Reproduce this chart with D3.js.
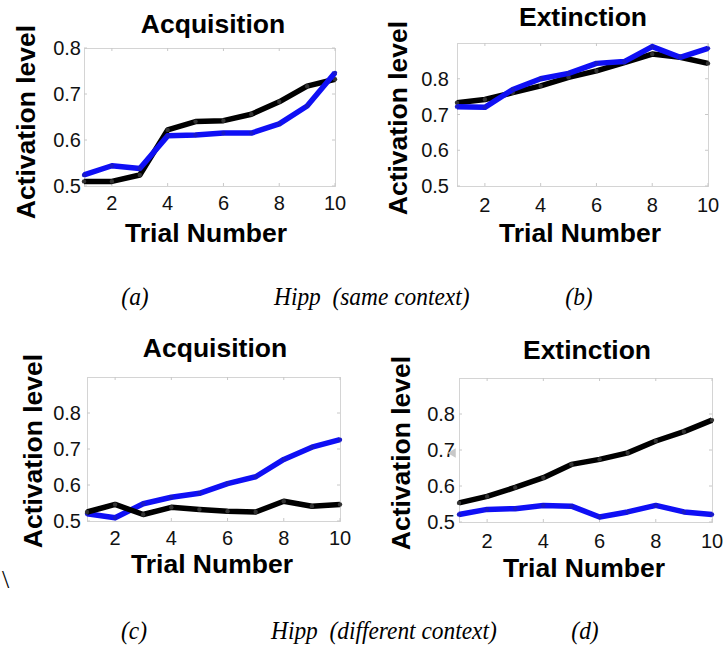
<!DOCTYPE html>
<html>
<head>
<meta charset="utf-8">
<script src="https://cdn.jsdelivr.net/npm/d3@7"></script>
<style>
  body { margin: 0; background: #fff; }
  .box { fill: none; stroke: #d4d4d4; stroke-width: 1; }
  .tick-mark { stroke: #c8c8c8; stroke-width: 1; }
  .tick-label { font-family: "Liberation Sans", Arial, sans-serif; font-size: 20px; fill: #111; }
  .title, .axis-label { font-family: "Liberation Sans", Arial, sans-serif; font-weight: bold; font-size: 26.5px; fill: #000; }
  .caption { font-family: "Liberation Serif", "Times New Roman", serif; font-style: italic; font-size: 26px; fill: #000; white-space: pre; }
  .series { fill: none; stroke-width: 5.5; stroke-linejoin: round; }
</style>
</head>
<body>
<div id="chart"></div>
<script>
(function(){

  // data
  var trials = [1, 2, 3, 4, 5, 6, 7, 8, 9, 10];
  var xTicks = [2, 4, 6, 8, 10];
  var yTicks = [0.5, 0.6, 0.7, 0.8];

  var acqSameBlack = [0.510, 0.510, 0.524, 0.622, 0.640, 0.642, 0.656, 0.683, 0.717, 0.732];
  var acqSameBlue  = [0.524, 0.544, 0.538, 0.609, 0.611, 0.615, 0.615, 0.635, 0.674, 0.746];
  var extSameBlack = [0.733, 0.742, 0.761, 0.780, 0.804, 0.822, 0.845, 0.869, 0.860, 0.843];
  var extSameBlue  = [0.722, 0.720, 0.770, 0.800, 0.815, 0.843, 0.848, 0.890, 0.860, 0.885];
  var acqDiffBlack = [0.525, 0.546, 0.518, 0.538, 0.532, 0.527, 0.525, 0.555, 0.541, 0.546];
  var acqDiffBlue  = [0.520, 0.509, 0.548, 0.566, 0.577, 0.604, 0.623, 0.671, 0.705, 0.726];
  var extDiffBlack = [0.553, 0.571, 0.596, 0.623, 0.660, 0.674, 0.692, 0.725, 0.751, 0.783];
  var extDiffBlue  = [0.521, 0.535, 0.537, 0.546, 0.544, 0.514, 0.528, 0.546, 0.528, 0.521];

  var titles = ['Acquisition', 'Extinction', 'Acquisition', 'Extinction'];
  var xLabel = 'Trial Number';
  var yLabel = 'Activation level';
  var captions = [
    { text: '(a)', x: 135, y: 305, anchor: 'middle' },
    { text: 'Hipp  (same context)', x: 274, y: 305, anchor: 'start' },
    { text: '(b)', x: 579, y: 305, anchor: 'middle' },
    { text: '(c)', x: 134, y: 639, anchor: 'middle' },
    { text: 'Hipp  (different context)', x: 271, y: 639, anchor: 'start' },
    { text: '(d)', x: 585, y: 639, anchor: 'middle' }
  ];

  var black = '#000';
  var blue = '#0f0ff5';

  // panel geometry (pixel layout)
  var panels = [
    { left: 84,  right: 335, top: 48,  bottom: 186, yMax: 0.8,
      title: [213, 33], xlab: [206, 242], ylab: [35, 122], tickGap: 3, xTickDy: 24,
      series: [[acqSameBlack, black], [acqSameBlue, blue]] },
    { left: 457, right: 708, top: 43,  bottom: 186, yMax: 0.9,
      title: [583, 26], xlab: [580, 242], ylab: [407, 118], tickGap: 8, xTickDy: 26,
      series: [[extSameBlack, black], [extSameBlue, blue]] },
    { left: 87,  right: 340, top: 377, bottom: 521, yMax: 0.9,
      title: [215, 357], xlab: [212, 573], ylab: [42, 451], tickGap: 6, xTickDy: 24,
      series: [[acqDiffBlue, blue], [acqDiffBlack, black]] },
    { left: 459, right: 712, top: 378, bottom: 522, yMax: 0.9,
      title: [587, 359], xlab: [584, 577], ylab: [410, 453], tickGap: 4, xTickDy: 26,
      series: [[extDiffBlue, blue], [extDiffBlack, black]] }
  ];

  var svg = d3.select('#chart')
    .append('svg')
      .attr('width', 723)
      .attr('height', 647);

  var fmt = d3.format('.1f');

  panels.forEach(function(p, i){
    var x = d3.scaleLinear().domain([1, 10]).range([p.left, p.right]);
    var y = d3.scaleLinear().domain([0.5, p.yMax]).range([p.bottom, p.top]);
    var g = svg.append('g').attr('class', 'panel');

    g.append('rect')
      .attr('class', 'box')
      .attr('x', p.left + 0.5)
      .attr('y', p.top + 0.5)
      .attr('width', p.right - p.left)
      .attr('height', p.bottom - p.top);

    // inward ticks on all four sides
    xTicks.forEach(function(t){
      g.append('line').attr('class', 'tick-mark')
        .attr('x1', x(t)).attr('x2', x(t)).attr('y1', p.bottom).attr('y2', p.bottom - 3);
      g.append('line').attr('class', 'tick-mark')
        .attr('x1', x(t)).attr('x2', x(t)).attr('y1', p.top).attr('y2', p.top + 3);
    });
    yTicks.forEach(function(t){
      g.append('line').attr('class', 'tick-mark')
        .attr('x1', p.left).attr('x2', p.left + 3).attr('y1', y(t)).attr('y2', y(t));
      g.append('line').attr('class', 'tick-mark')
        .attr('x1', p.right).attr('x2', p.right - 3).attr('y1', y(t)).attr('y2', y(t));
    });

    g.selectAll('text.xt')
      .data(xTicks)
      .enter().append('text')
        .attr('class', 'tick-label xt')
        .attr('x', function(d){ return x(d); })
        .attr('y', p.bottom + p.xTickDy)
        .attr('text-anchor', 'middle')
        .text(function(d){ return d; });

    g.selectAll('text.yt')
      .data(yTicks)
      .enter().append('text')
        .attr('class', 'tick-label yt')
        .attr('x', p.left - p.tickGap)
        .attr('y', function(d){ return y(d); })
        .attr('dy', '0.36em')
        .attr('text-anchor', 'end')
        .text(function(d){ return fmt(d); });

    var line = d3.line()
      .x(function(d, j){ return x(trials[j]); })
      .y(function(d){ return y(d); });

    p.series.forEach(function(s){
      g.append('path')
        .datum(s[0])
        .attr('class', 'series')
        .attr('stroke', s[1])
        .attr('d', line);

      g.selectAll(null)
        .data(s[0])
        .enter().append('circle')
          .attr('cx', function(d, j){ return x(trials[j]); })
          .attr('cy', function(d){ return y(d); })
          .attr('r', 2.2)
          .attr('fill', s[1] === black ? '#333' : '#1a1ac8');
    });

    svg.append('text')
      .attr('class', 'title')
      .attr('x', p.title[0]).attr('y', p.title[1])
      .attr('text-anchor', 'middle')
      .text(titles[i]);

    svg.append('text')
      .attr('class', 'axis-label')
      .attr('x', p.xlab[0]).attr('y', p.xlab[1])
      .attr('text-anchor', 'middle')
      .text(xLabel);

    svg.append('text')
      .attr('class', 'axis-label')
      .attr('transform', 'translate(' + p.ylab[0] + ',' + p.ylab[1] + ') rotate(-90)')
      .attr('text-anchor', 'middle')
      .text(yLabel);
  });

  // small gray marker left of panel (d)
  svg.append('path')
    .attr('d', d3.symbol().type(d3.symbolTriangle).size(40))
    .attr('transform', 'translate(453,453) rotate(-90)')
    .attr('fill', '#c8c8c8');

  svg.append('text')
    .attr('class', 'caption')
    .attr('x', 2).attr('y', 588)
    .style('font-style', 'normal')
    .text('\\');

  svg.selectAll('text.caption-line')
    .data(captions)
    .enter().append('text')
      .attr('class', 'caption caption-line')
      .attr('text-anchor', function(d){ return d.anchor; })
      .attr('transform', function(d){ return 'translate(' + d.x + ',' + d.y + ') scale(0.9,1)'; })
      .text(function(d){ return d.text; });

})();
</script>
</body>
</html>
